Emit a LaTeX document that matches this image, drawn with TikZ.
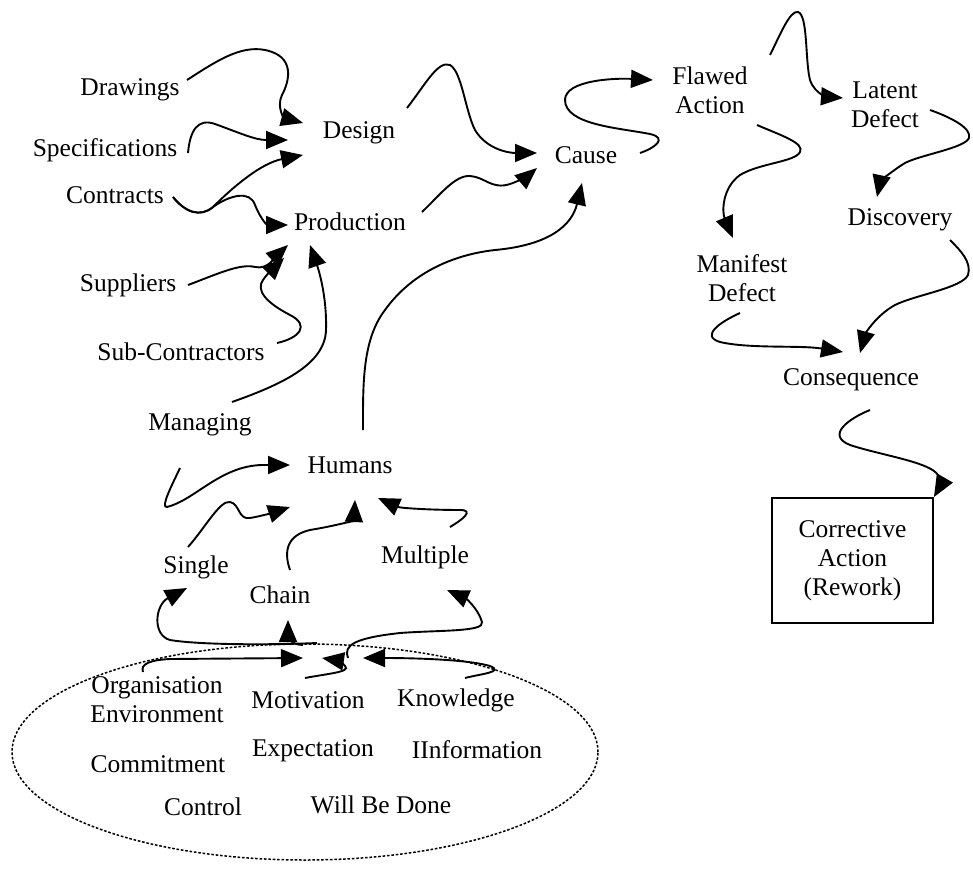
\documentclass[tikz,border=0pt]{standalone}
\usepackage{fontspec}
\setmainfont{Liberation Serif}
\usetikzlibrary{arrows.meta,shapes.geometric}
\begin{document}
\begin{tikzpicture}[x=1pt,y=-1pt,
  lbl/.style={font=\fontsize{25.5}{29}\selectfont, align=center, inner sep=0pt},
  flow/.style={line width=1.9pt, -{Triangle[length=22pt,width=18pt]}},
  factors/.style={draw, dash pattern=on 2.6pt off 1.8pt, line width=1.5pt}]
\useasboundingbox (0,0) rectangle (973,877);

% sources on the left
\node[lbl] (drawings) at (130,90) {Drawings};
\node[lbl] (specs) at (105,150) {Specifications};
\node[lbl] (contracts) at (115,195) {Contracts};
\node[lbl] (suppliers) at (128,285) {Suppliers};
\node[lbl] (subcon) at (181,352) {Sub-Contractors};
\node[lbl] (managing) at (200,425) {Managing};

% stages
\node[lbl] (design) at (359,133) {Design};
\node[lbl] (production) at (350,222) {Production};
\node[lbl] (cause) at (586,155) {Cause};
\node[lbl] (flawed) at (710,90) {Flawed\\Action};
\node[lbl] (latent) at (885,105) {Latent\\Defect};
\node[lbl] (discovery) at (900,220) {Discovery};
\node[lbl] (manifest) at (742,278) {Manifest\\Defect};
\node[lbl] (consequence) at (851,380) {Consequence};
\node[lbl, draw, line width=1.9pt, minimum width=161pt, minimum height=125pt]
  (box) at (852.5,560.5) {Corrective\\Action\\(Rework)};

% human factors
\node[lbl] (humans) at (350,465) {Humans};
\node[lbl] (single) at (196,567) {Single};
\node[lbl] (chain) at (280,595) {Chain};
\node[lbl] (multiple) at (425,557) {Multiple};

% the dashed ellipse and its contents
\node[factors, ellipse, minimum width=586pt, minimum height=216pt, inner sep=0pt]
  (group) at (305,752) {};
\node[lbl] (org) at (157,700) {Organisation\\Environment};
\node[lbl] (motivation) at (308,700) {Motivation};
\node[lbl] (knowledge) at (456,700) {Knowledge};
\node[lbl] (commitment) at (158,764) {Commitment};
\node[lbl] (expectation) at (313,751) {Expectation};
\node[lbl] (information) at (477,750) {IInformation};
\node[lbl] (control) at (203,807) {Control};
\node[lbl] (willbe) at (381,805) {Will Be Done};
\coordinate (hub) at (312,650);

% inputs to design and production
\draw[flow] ([shift={(57,-10)}]drawings.center) .. controls (215,62) and (240,45) .. (265,50)
  .. controls (295,56) and (290,80) .. (282,95) .. controls (276,108) and (285,118) .. ([shift={(-56,-10)}]design.center);
\draw[flow] ([shift={(83,3)}]specs.center) .. controls (190,130) and (198,118) .. (215,124)
  .. controls (240,133) and (255,140) .. ([shift={(-71,7)}]design.center);
\draw[flow] ([shift={(58,2)}]contracts.center) .. controls (185,212) and (200,218) .. (213,207)
  .. controls (235,185) and (262,163) .. ([shift={(-56,22)}]design.center);
\draw[flow] ([shift={(58,2)}]contracts.center) .. controls (185,212) and (200,218) .. (213,207)
  .. controls (230,195) and (250,190) .. (255,205) .. controls (262,222) and (268,225) .. ([shift={(-62,3)}]production.center);
\draw[flow] ([shift={(60,0)}]suppliers.center) .. controls (215,275) and (240,263) .. (255,267)
  .. controls (268,270) and (276,256) .. ([shift={(-62,23)}]production.center);
\draw[flow] ([shift={(96,-9)}]subcon.center) .. controls (300,338) and (310,325) .. (290,315)
  .. controls (265,302) and (256,290) .. (263,280) .. controls (270,270) and (278,264) .. ([shift={(-66,36)}]production.center);
\draw[flow] ([shift={(32,-23)}]managing.center) .. controls (280,385) and (325,365) .. (326,330)
  .. controls (327,295) and (318,268) .. ([shift={(-40,23)}]production.center);

% towards the cause
\draw[flow] ([shift={(48,-25)}]design.center) .. controls (425,85) and (438,60) .. (450,65)
  .. controls (462,72) and (465,110) .. (475,130) .. controls (487,150) and (510,153) .. ([shift={(-49,-2)}]cause.center);
\draw[flow] ([shift={(72,-10)}]production.center) .. controls (440,195) and (455,175) .. (470,176)
  .. controls (485,177) and (492,190) .. (510,184) .. controls (522,180) and (530,174) .. ([shift={(-49,13)}]cause.center);
\draw[flow] ([shift={(13,-35)}]humans.center) .. controls (363,385) and (362,340) .. (385,310)
  .. controls (410,275) and (450,255) .. (495,250) .. controls (550,245) and (572,225) .. ([shift={(-4,28)}]cause.center);

% from cause to consequence
\draw[flow] ([shift={(54,-2)}]cause.center) .. controls (655,148) and (668,138) .. (650,134)
  .. controls (620,128) and (565,125) .. (565,100) .. controls (565,80) and (615,78) .. ([shift={(-57,-10)}]flawed.center);
\draw[flow] ([shift={(60,-35)}]flawed.center) .. controls (780,35) and (790,10) .. (798,12)
  .. controls (808,15) and (805,60) .. (810,80) .. controls (815,95) and (830,97) .. ([shift={(-42,-7)}]latent.center);
\draw[flow] ([shift={(47,35)}]flawed.center) .. controls (780,135) and (805,143) .. (800,152)
  .. controls (795,162) and (760,163) .. (740,175) .. controls (722,188) and (722,212) .. ([shift={(-9,-40)}]manifest.center);
\draw[flow] ([shift={(45,5)}]latent.center) .. controls (950,117) and (972,128) .. (969,138)
  .. controls (965,148) and (920,155) .. (905,163) .. controls (890,172) and (880,183) .. ([shift={(-23,-23)}]discovery.center);
\draw[flow] ([shift={(50,20)}]discovery.center) .. controls (960,250) and (972,262) .. (968,275)
  .. controls (962,288) and (915,295) .. (895,305) .. controls (875,316) and (865,335) .. ([shift={(9,-27)}]consequence.center);
\draw[flow] ([shift={(-2,35)}]manifest.center) .. controls (720,322) and (700,336) .. (720,342)
  .. controls (750,349) and (800,345) .. ([shift={(-8,-28)}]consequence.center);
\draw[flow] ([shift={(19,30)}]consequence.center) .. controls (850,418) and (825,435) .. (850,445)
  .. controls (880,455) and (930,462) .. (938,475) .. controls (942,483) and (938,490) .. (box.north east);

% into humans
\draw[flow] ([shift={(-20,43)}]managing.center) .. controls (172,485) and (160,508) .. (167,507)
  .. controls (195,500) and (220,466) .. (262,465) -- ([shift={(-60,0)}]humans.center);
\draw[flow] ([shift={(-8,-20)}]single.center) .. controls (205,528) and (220,500) .. (230,502)
  .. controls (240,504) and (238,520) .. (250,518) .. controls (262,516) and (275,512) .. ([shift={(-60,42)}]humans.center);
\draw[flow] ([shift={(10,-25)}]chain.center) .. controls (283,550) and (288,535) .. (310,530)
  .. controls (340,525) and (354,520) .. ([shift={(5,35)}]humans.center);
\draw[flow] ([shift={(25,-30)}]multiple.center) .. controls (462,520) and (475,510) .. (460,510)
  .. controls (430,510) and (400,508) .. ([shift={(28,33)}]humans.center);

% out of the hub
\draw[flow] ([shift={(5,-7)}]hub) .. controls (270,645) and (200,645) .. (170,640)
  .. controls (152,635) and (155,605) .. ([shift={(-9,21)}]single.center);
\draw[flow] ([shift={(-9,-5)}]hub) .. controls (290,645) and (288,635) .. ([shift={(8,25)}]chain.center);
\draw[flow] ([shift={(36,8)}]hub) .. controls (343,645) and (355,638) .. (400,633)
  .. controls (440,630) and (485,632) .. (482,622) .. controls (478,608) and (465,598) .. ([shift={(22,33)}]multiple.center);

% into the hub
\draw[flow] ([shift={(-14,-28)}]org.center) .. controls (140,664) and (150,660) .. (170,659)
  -- ([shift={(-9,8)}]hub);
\draw[flow] ([shift={(-3,-22)}]motivation.center) .. controls (325,674) and (352,672) .. (345,666)
  .. controls (342,661) and (335,660) .. ([shift={(10,8)}]hub);
\draw[flow] ([shift={(9,-22)}]knowledge.center) .. controls (480,674) and (505,672) .. (490,666)
  .. controls (470,660) and (420,658) .. ([shift={(51,8)}]hub);
\end{tikzpicture}
\end{document}
